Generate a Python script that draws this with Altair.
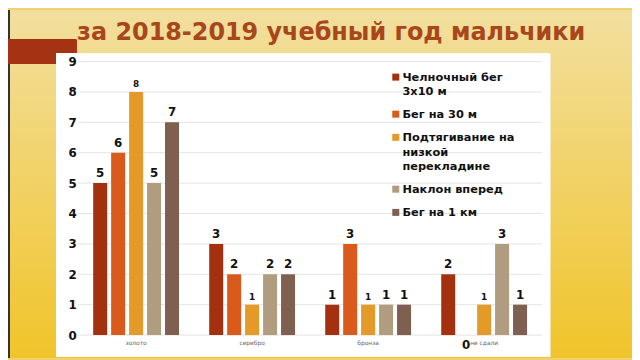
import altair as alt
import pandas as pd

categories = ["золото", "серебро", "бронза", "не сдали"]
series = ["Челночный бег 3х10 м", "Бег на 30 м",
          "Подтягивание на низкой перекладине", "Наклон вперед", "Бег на 1 км"]
v_shuttle = [5, 3, 1, 2]
v_run30 = [6, 2, 3, 0]
v_pullup = [8, 1, 1, 1]
v_bend = [5, 2, 1, 3]
v_run1k = [7, 2, 1, 1]
y_ticks = [0, 1, 2, 3, 4, 5, 6, 7, 8, 9]
colors = ["#a3300f", "#d95a1a", "#e39a28", "#b09c7e", "#7f5f50"]
title_text = "за 2018-2019 учебный год мальчики"

rows = []
for s, vals in zip(series, [v_shuttle, v_run30, v_pullup, v_bend, v_run1k]):
    for c, v in zip(categories, vals):
        rows.append({"cat": c, "series": s, "value": v})
df = pd.DataFrame(rows)
grid_df = pd.DataFrame({"value": y_ticks})
title_df = pd.DataFrame({"t": [title_text]})

W, H = 470, 277
FONT = "DejaVu Sans"
LDY = -5  # vertical shift applied to all guide labels (for legend alignment)

base = alt.Chart(df)

# decorations (page background, white panel, tab)
bg = base.mark_rect(
    color=alt.LinearGradient(gradient="linear", x1=0, y1=0, x2=0, y2=1,
                             stops=[alt.GradientStop(color="#f2df9f", offset=0),
                                    alt.GradientStop(color="#f0c42a", offset=1)])
).encode(x=alt.value(-71), x2=alt.value(561), y=alt.value(-52), y2=alt.value(300))
strip = base.mark_rect(color="#333333").encode(
    x=alt.value(-71), x2=alt.value(-69), y=alt.value(-52), y2=alt.value(300))
tab = base.mark_rect(color="#a53212").encode(
    x=alt.value(-71), x2=alt.value(-2), y=alt.value(-22), y2=alt.value(2))
panel = base.mark_rect(color="white").encode(
    x=alt.value(-22), x2=alt.value(478), y=alt.value(-8), y2=alt.value(299))

title = alt.Chart(title_df).mark_text(
    align="left", baseline="alphabetic", fontSize=24.2, font=FONT, fontWeight="bold",
    color="#a8461c"
).encode(x=alt.value(-1), y=alt.value(-22), text="t:N")

xenc = alt.X("cat:N", sort=categories, title=None,
             scale=alt.Scale(paddingInner=0.26, paddingOuter=0.13),
             axis=alt.Axis(labelFontSize=6, labelColor="#666666", labelAngle=0,
                           ticks=False, domain=False, labelPadding=5 - LDY, labelFont=FONT,
                           grid=False, zindex=1))
yscale = alt.Scale(domain=[0, 9], nice=False)
yaxis = alt.Axis(values=y_ticks, labelFontSize=12, labelFontWeight="bold",
                 labelColor="#111111", ticks=False, domain=False, labelPadding=2,
                 labelOffset=-LDY, labelOverlap=False, labelBound=False,
                 labelFlush=False, grid=False, labelFont=FONT, zindex=1)
yenc = alt.Y("value:Q", title=None, scale=yscale, axis=yaxis)
xoff = alt.XOffset("series:N", sort=series, scale=alt.Scale(paddingInner=0.22))

legend_expr = ("datum.label == 'Челночный бег 3х10 м' ? ['Челночный бег', '3х10 м'] : "
               "datum.label == 'Подтягивание на низкой перекладине' ? "
               "['Подтягивание на', 'низкой', 'перекладине'] : datum.label")

grid = alt.Chart(grid_df).mark_rule(color="#e4e4e4", strokeWidth=1).encode(
    y=yenc, x=alt.value(0), x2=alt.value(W))

bars = base.mark_bar().encode(
    x=xenc, y=yenc, xOffset=xoff,
    color=alt.Color("series:N", sort=series,
                    scale=alt.Scale(domain=series, range=colors),
                    legend=alt.Legend(title=None, orient="none", legendX=316, legendY=10,
                                      symbolType="square", symbolSize=50,
                                      symbolStrokeWidth=0,
                                      labelFontSize=11.5, labelFontWeight="bold",
                                      labelColor="#111111", labelFont=FONT,
                                      labelLimit=300, labelExpr=legend_expr,
                                      labelBaseline="top",
                                      labelOffset=1, rowPadding=10.5)),
)

lab_big = base.mark_text(baseline="bottom", dy=-3, fontSize=12, fontWeight="bold",
                         font=FONT, color="#111111").encode(
    x=xenc, y=yenc, xOffset=xoff, text="value:Q"
).transform_filter(
    (alt.datum.series != series[2]) & (alt.datum.value > 0))
lab_small = base.mark_text(baseline="bottom", dy=-3, fontSize=9, fontWeight="bold",
                           font=FONT, color="#111111").encode(
    x=xenc, y=yenc, xOffset=xoff, text="value:Q"
).transform_filter(
    (alt.datum.series == series[2]) & (alt.datum.value > 0))
lab_zero = base.mark_text(baseline="top", dy=5, fontSize=12, fontWeight="bold",
                          font=FONT, color="#111111").encode(
    x=xenc, y=yenc, xOffset=xoff, text="value:Q"
).transform_filter(alt.datum.value == 0)

chart = alt.layer(bg, strip, tab, panel, title, grid, bars,
                  lab_big, lab_small, lab_zero).properties(
    width=W, height=H,
    autosize=alt.AutoSizeParams(type="none"),
    padding={"left": 71, "top": 52, "right": 91, "bottom": 23},
    background="#f0d070",
).configure_view(stroke=None).configure_axisY(labelOverlap=False).configure(
    style={"guide-label": {"lineHeight": 14.5, "dy": LDY}})

chart.save("out.html", embed_options={"renderer": "svg", "actions": False})
